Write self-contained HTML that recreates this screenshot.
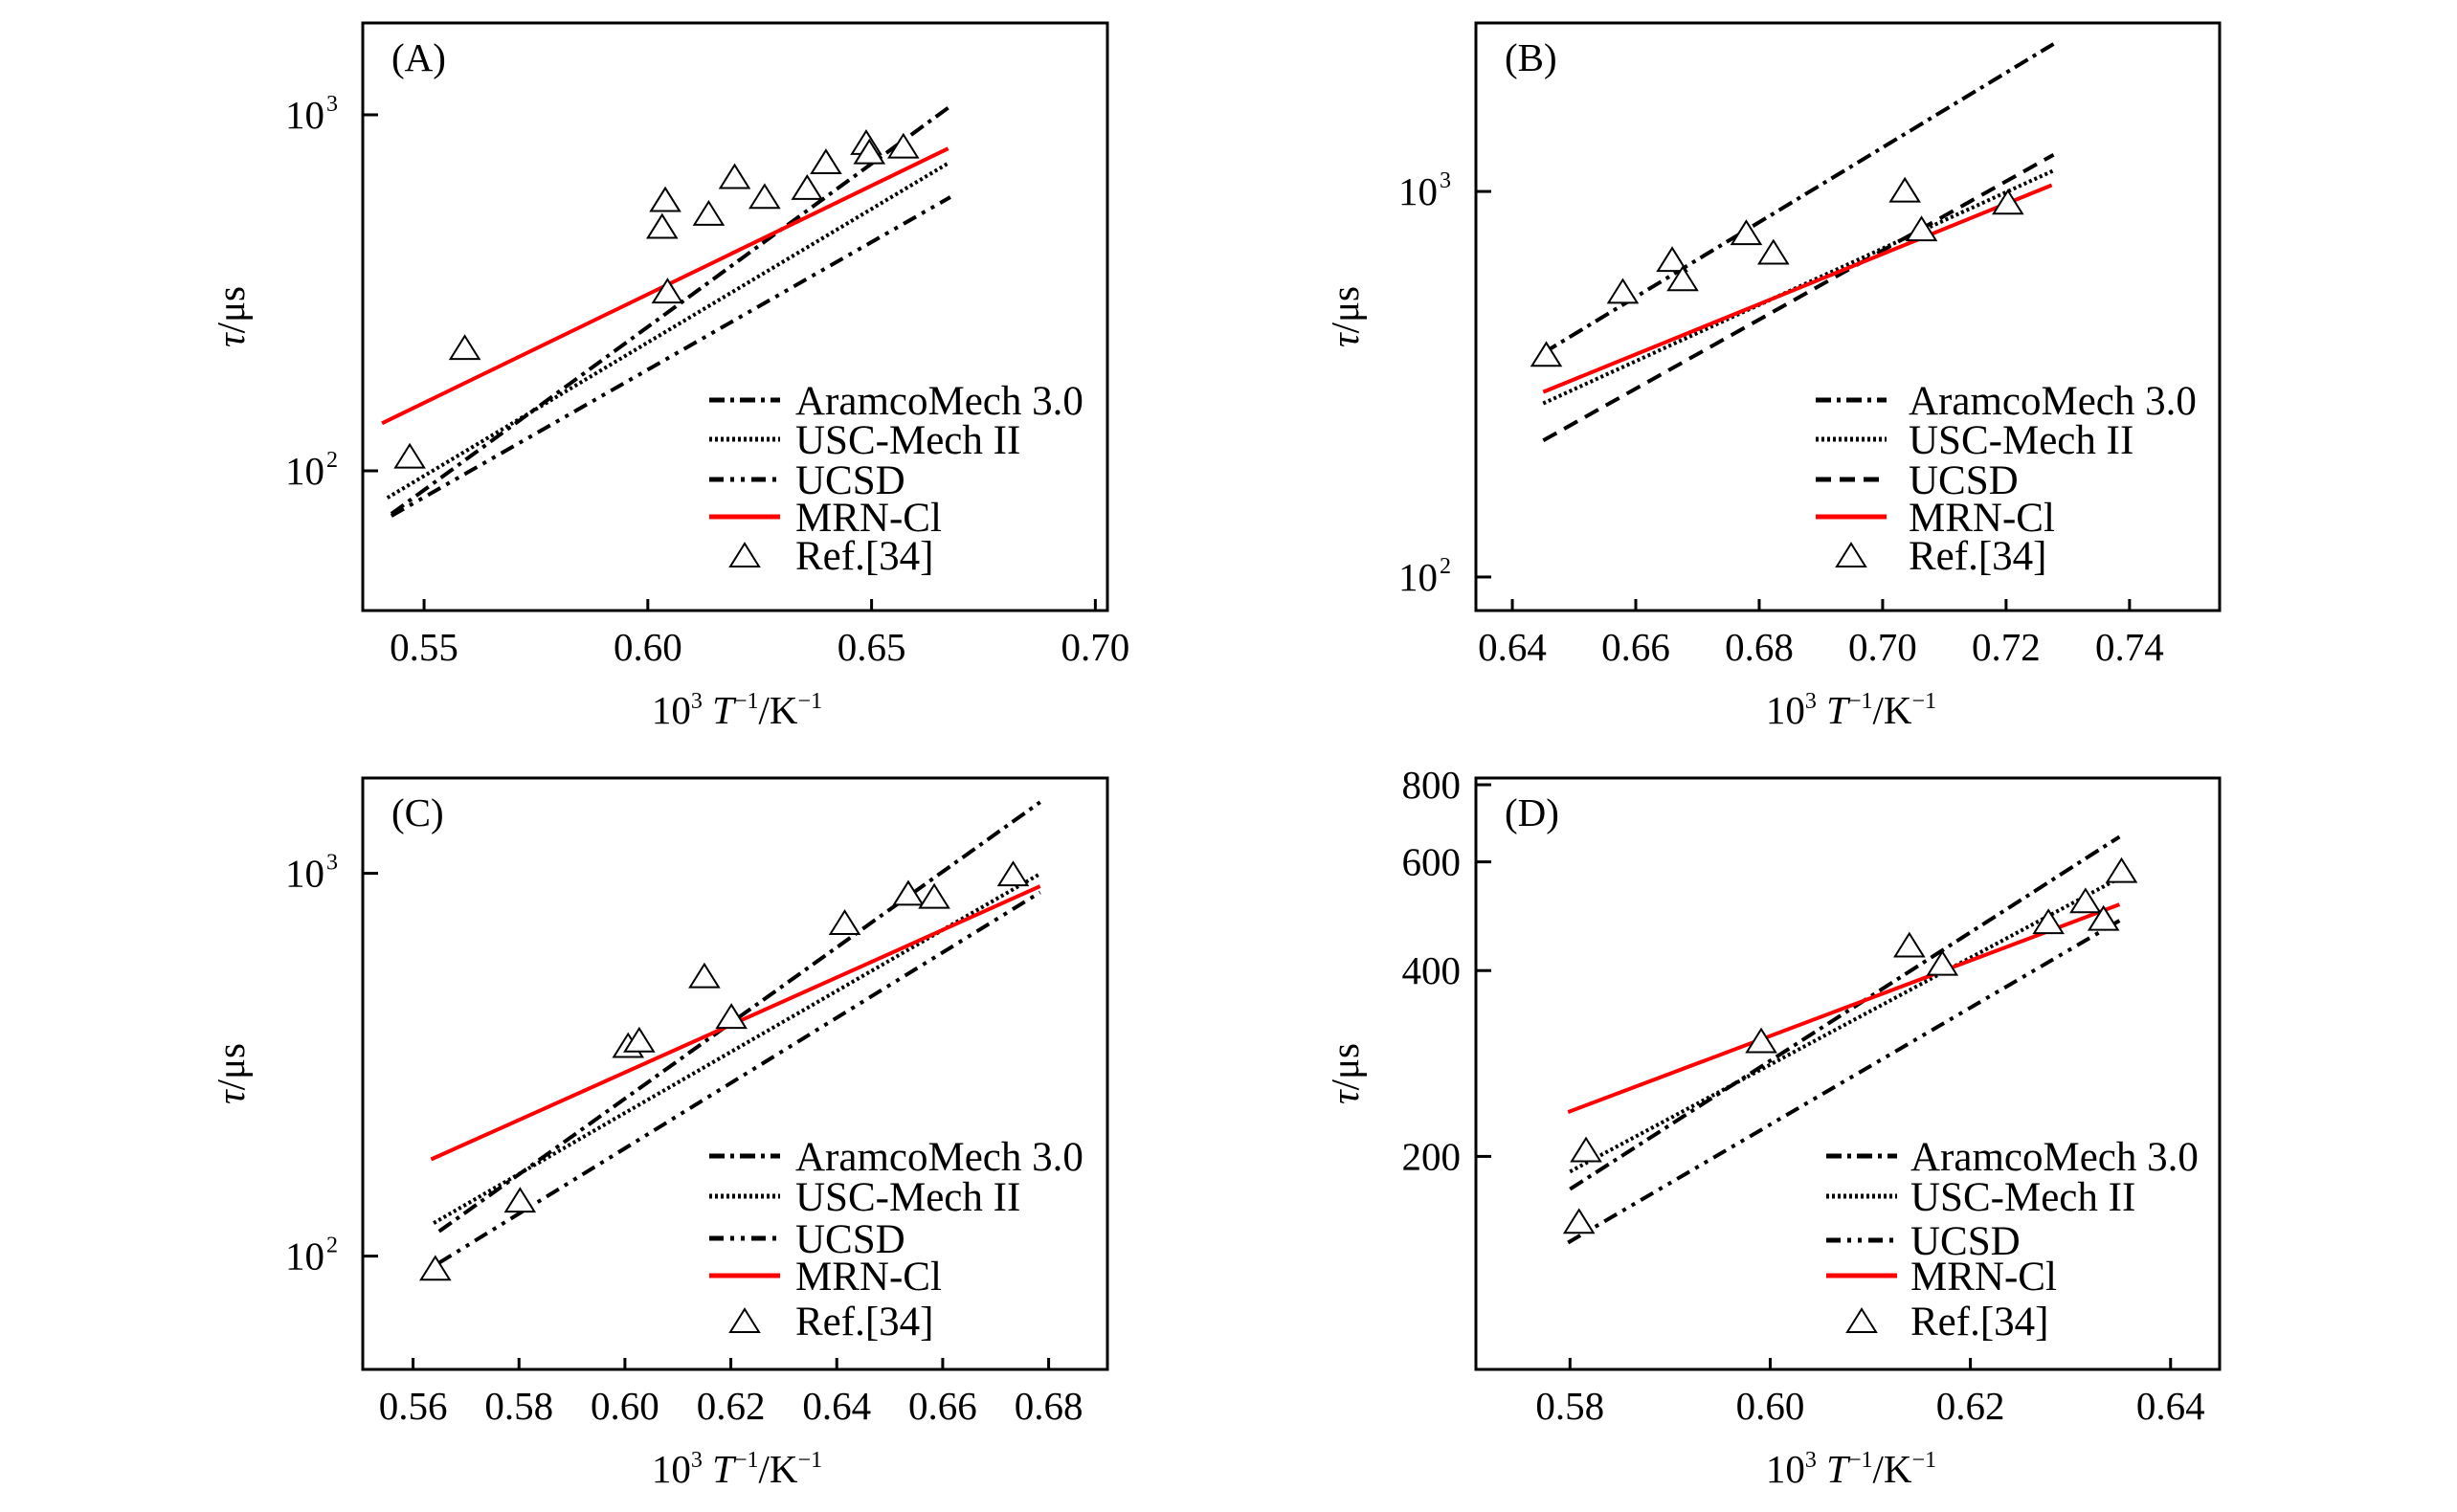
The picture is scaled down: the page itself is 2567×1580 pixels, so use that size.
<!DOCTYPE html>
<html><head><meta charset="utf-8"><style>
html,body{margin:0;padding:0;background:#fff;}
svg text{font-family:"Liberation Serif",serif;fill:#000;}
</style></head><body>
<svg id="fig" width="2567" height="1575" viewBox="0 0 2567 1575" xmlns="http://www.w3.org/2000/svg"></svg>
<script>
// ---- data (x = 1000/T, y = tau in µs) ----
const seriesNames = ["AramcoMech 3.0","USC-Mech II","UCSD","MRN-Cl","Ref.[34]"];
// Panel A
const aAramcoX=[0.5427,0.6676], aAramcoY=[75.7,1057];
const aUscX=[0.5418,0.6671], aUscY=[84,731];
const aUcsdX=[0.5427,0.6676], aUcsdY=[74.7,587];
const aMrnX=[0.5406,0.6671], aMrnY=[136,804];
const aRefX=[0.5468,0.5591,0.6032,0.6039,0.6044,0.6136,0.6194,0.6261,0.6356,0.6398,0.6488,0.6495,0.6571];
const aRefY=[110,222,486,578,320,529,671,590,625,738,836,787,817];
const aXTicks=[0.55,0.60,0.65,0.70];
// Panel B
const bAramcoX=[0.645,0.7277], bAramcoY=[381,2414];
const bUscX=[0.645,0.7277], bUscY=[282,1133];
const bUcsdX=[0.645,0.7277], bUcsdY=[226,1245];
const bMrnX=[0.645,0.7274], bMrnY=[302,1038];
const bRefX=[0.6455,0.6579,0.6659,0.6676,0.6779,0.6823,0.7036,0.7063,0.7203];
const bRefY=[378,551,666,594,782,696,1008,800,938];
const bXTicks=[0.64,0.66,0.68,0.70,0.72,0.74];
// Panel C
const cAramcoX=[0.5649,0.6784], cAramcoY=[116,1535];
const cUscX=[0.5639,0.6784], cUscY=[122,997];
const cUcsdX=[0.5649,0.6784], cUcsdY=[96,892];
const cMrnX=[0.5634,0.6784], cMrnY=[179,925];
const cRefX=[0.5642,0.5802,0.6006,0.6027,0.6150,0.6201,0.6415,0.6535,0.6584,0.6733];
const cRefY=[93,140,355,367,540,423,744,887,871,997];
const cXTicks=[0.56,0.58,0.60,0.62,0.64,0.66,0.68];
// Panel D
const dAramcoX=[0.5800,0.6349], dAramcoY=[177,659];
const dUscX=[0.5800,0.6349], dUscY=[189,565];
const dUcsdX=[0.5798,0.6349], dUcsdY=[145,482];
const dMrnX=[0.5798,0.6349], dMrnY=[236,512];
const dRefX=[0.5816,0.5809,0.5991,0.6139,0.6172,0.6278,0.6315,0.6333,0.6351];
const dRefY=[205,157,308,440,411,480,519,486,581];
const dXTicks=[0.58,0.60,0.62,0.64];
const dYTicks=[200,400,600,800];

const NS="http://www.w3.org/2000/svg";
const svg=document.getElementById('fig');
function mk(tag,attrs,parent){const e=document.createElementNS(NS,tag);for(const k in attrs)e.setAttribute(k,attrs[k]);(parent||svg).appendChild(e);return e;}

const panels=[
 {id:'a',label:'(A)',box:[379,24,1157,638],x0:0.5363,x1:0.7027,y0:1.6075,y1:3.258,xt:aXTicks,xdec:2,
  s:[[aAramcoX,aAramcoY],[aUscX,aUscY],[aUcsdX,aUcsdY],[aMrnX,aMrnY]],ref:[aRefX,aRefY],ucsdDash:'15 7 4 7 4 7',
  leg:[741,815,831,[418,459,501,540,580]],ylab:243,xlabX:770},
 {id:'b',label:'(B)',box:[1542,24,2319,638],x0:0.6341,x1:0.7546,y0:1.913,y1:3.437,xt:bXTicks,xdec:2,
  s:[[bAramcoX,bAramcoY],[bUscX,bUscY],[bUcsdX,bUcsdY],[bMrnX,bMrnY]],ref:[bRefX,bRefY],ucsdDash:'16 9',
  leg:[1897,1971,1994,[418,459,501,540,580]],ylab:1407,xlabX:1934},
 {id:'c',label:'(C)',box:[379,813,1157,1431],x0:0.5505,x1:0.6911,y0:1.704,y1:3.249,xt:cXTicks,xdec:2,
  s:[[cAramcoX,cAramcoY],[cUscX,cUscY],[cUcsdX,cUcsdY],[cMrnX,cMrnY]],ref:[cRefX,cRefY],ucsdDash:'15 7 4 7 4 7',
  leg:[741,815,831,[1208,1250,1294,1333,1380]],ylab:243,xlabX:770},
 {id:'d',label:'(D)',box:[1542,813,2319,1431],x0:0.5706,x1:0.6449,y0:1.956,y1:2.914,xt:dXTicks,xdec:2,yt:dYTicks,
  s:[[dAramcoX,dAramcoY],[dUscX,dUscY],[dUcsdX,dUcsdY],[dMrnX,dMrnY]],ref:[dRefX,dRefY],ucsdDash:'15 7 4 7 4 7',
  leg:[1908,1982,1996,[1208,1250,1296,1333,1380]],ylab:1407,xlabX:1934}
];

panels.forEach(p=>{
 const [L,T,R,B]=p.box;
 const g=mk('g',{});
 
 
 const xs=v=>L+(v-p.x0)/(p.x1-p.x0)*(R-L);
 const ys=v=>B-(Math.log10(v)-p.y0)/(p.y1-p.y0)*(B-T);
 p.xt.forEach(t=>{
  const x=xs(t);
  const tk=mk('line',{x1:x,y1:B,x2:x,y2:B-12,stroke:'#000','stroke-width':3},g);
  
  
  const tl=mk('text',{x:x,y:B+52,'font-size':41,'text-anchor':'middle'},g);
  tl.textContent=t.toFixed(p.xdec);
  
  
 });
 if(p.yt){
  p.yt.forEach(t=>{
   const y=ys(t);
   const tk=mk('line',{x1:L,y1:y,x2:L+16,y2:y,stroke:'#000','stroke-width':3},g);
   
   
   const tl=mk('text',{x:L-16,y:y+14,'font-size':41,'text-anchor':'end'},g);
   tl.textContent=String(t);
   
   
  });
 } else {
  [2,3].forEach(e=>{
   const y=ys(Math.pow(10,e));
   if(y<T||y>B)return;
   const tk=mk('line',{x1:L,y1:y,x2:L+16,y2:y,stroke:'#000','stroke-width':3},g);
   
   
   const tl=mk('text',{x:L-40,y:y+14,'font-size':41,'text-anchor':'end'},g);
   tl.textContent='10';
   
   
   const sp=mk('text',{x:L-38,y:y-4,'font-size':24,'text-anchor':'start'},g);
   sp.textContent=String(e);
   
   
  });
 }
 const clip=mk('clipPath',{id:'clip'+p.id},g);
 mk('rect',{x:L,y:T,width:R-L,height:B-T},clip);
 const plot=mk('g',{'clip-path':'url(#clip'+p.id+')'},g);
 const styles=[
  {stroke:'#000',dash:'16 6 4 6',w:4,name:'aramcomech-line'},
  {stroke:'#000',dash:'3 3',w:4,name:'usc-mech-line'},
  {stroke:'#000',dash:p.ucsdDash,w:4,name:'ucsd-line'},
  {stroke:'#f00',dash:'none',w:4,name:'mrn-cl-line'}];
 p.s.forEach((sr,i)=>{
  const pts=sr[0].map((x,j)=>xs(x).toFixed(1)+','+ys(sr[1][j]).toFixed(1)).join(' ');
  const pl=mk('polyline',{points:pts,fill:'none',stroke:styles[i].stroke,'stroke-width':styles[i].w,'stroke-dasharray':styles[i].dash},plot);
  
  
 });
 p.ref[0].forEach((x,j)=>{
  const cx=xs(x),cy=ys(p.ref[1][j]);
  const tr=mk('polygon',{points:`${cx-15},${cy+12} ${cx+15},${cy+12} ${cx},${cy-12}`,fill:'#fff',stroke:'#000','stroke-width':2},plot);
  
  
 });
 const fr=mk('rect',{x:L,y:T,width:R-L,height:B-T,fill:'none',stroke:'#000','stroke-width':3},g);
 
 
 const pl=mk('text',{x:L+30,y:T+50,'font-size':41},g);
 pl.textContent=p.label;
 
 
 const [lx1,lx2,tx,rows]=p.leg;
 for(let i=0;i<5;i++){
  const y=rows[i];
  if(i<4){
   const ll=mk('line',{x1:lx1,y1:y,x2:lx2,y2:y,stroke:styles[i].stroke,'stroke-width':5,'stroke-dasharray':styles[i].dash},g);
   
   
  } else {
   const c=(lx1+lx2)/2;
   const lt=mk('polygon',{points:`${c-15},${y+12} ${c+15},${y+12} ${c},${y-12}`,fill:'#fff',stroke:'#000','stroke-width':2},g);
   
   
  }
  const t=mk('text',{x:tx,y:y+15,'font-size':43},g);
  t.textContent=seriesNames[i];
  
  
 }
 const yl=mk('text',{x:0,y:0,'font-size':41,'text-anchor':'middle',transform:`translate(${p.ylab+12},${(T+B)/2}) rotate(-90)`},g);
 yl.innerHTML='<tspan font-style="italic">τ</tspan>/μs';
 
 
 const xl=mk('text',{x:p.xlabX,y:B+118,'font-size':41,'text-anchor':'middle'},g);
 xl.innerHTML='10<tspan font-size="24" dy="-16">3</tspan><tspan dy="16"> </tspan><tspan font-style="italic">T</tspan><tspan font-size="24" dy="-16">−1</tspan><tspan dy="16">/K</tspan><tspan font-size="24" dy="-16">−1</tspan>';
 
 
});
</script>
</body></html>
